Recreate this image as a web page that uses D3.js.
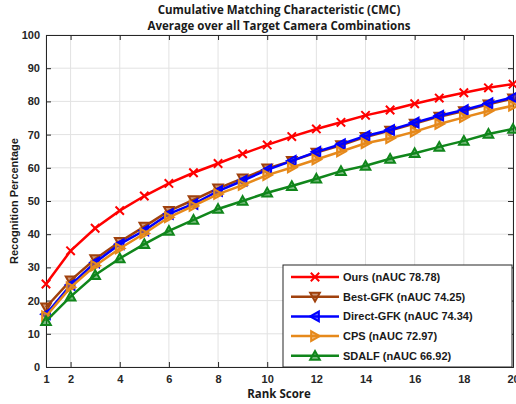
<!DOCTYPE html>
<html>
<head>
<meta charset="utf-8">
<script src="https://cdn.jsdelivr.net/npm/d3@7"></script>
<style>
  html, body { margin: 0; padding: 0; background: #fff; }
  svg { display: block; }
</style>
</head>
<body>
<svg id="chart" width="516" height="404"></svg>
<script>
// Rank scores (x) and recognition percentage per method
const ranks = d3.range(1, 21);
const ours      = [25.0, 35.0, 41.8, 47.1, 51.5, 55.3, 58.5, 61.3, 64.2, 66.9, 69.4, 71.7, 73.7, 75.8, 77.4, 79.3, 81.0, 82.6, 84.1, 85.2];
const bestGFK   = [18.0, 26.1, 32.5, 37.7, 42.3, 47.0, 50.3, 53.8, 56.8, 59.8, 62.1, 64.6, 66.8, 69.3, 71.2, 73.3, 75.4, 77.1, 79.1, 80.9];
const directGFK = [15.9, 24.7, 31.5, 37.0, 41.1, 46.1, 49.1, 53.0, 56.1, 59.4, 62.1, 64.8, 67.1, 69.6, 71.4, 73.6, 75.7, 77.4, 79.4, 81.2];
const cps       = [15.3, 24.0, 30.5, 35.7, 40.2, 45.1, 48.5, 52.1, 54.8, 57.8, 60.1, 62.5, 64.9, 67.4, 68.9, 70.9, 73.2, 75.2, 77.1, 78.7];
const sdalf     = [13.8, 21.2, 27.7, 32.7, 37.0, 41.0, 44.3, 47.6, 50.0, 52.5, 54.5, 56.7, 59.0, 60.6, 62.7, 64.4, 66.3, 68.1, 70.2, 71.7];

const seriesNames = ["Ours (nAUC 78.78)", "Best-GFK (nAUC 74.25)", "Direct-GFK (nAUC 74.34)", "CPS (nAUC 72.97)", "SDALF (nAUC 66.92)"];
const seriesColors = ["#ff0000", "#a0410d", "#0000ff", "#e6891b", "#10861b"];
const seriesMarkers = ["cross", "down", "left", "right", "up"];
const seriesValues = [ours, bestGFK, directGFK, cps, sdalf];

const xTicks = [1, 2, 4, 6, 8, 10, 12, 14, 16, 18, 20];
const yTicks = d3.range(0, 101, 10);

const titleLines = ["Cumulative Matching Characteristic (CMC)", "Average over all  Target Camera Combinations"];
const xLabel = "Rank Score";
const yLabel = "Recognition Percentage";

const svg = d3.select("#chart");
const margin = { left: 45, right: 3, top: 35, bottom: 37 };
const W = 516, H = 404;
const x = d3.scaleLinear().domain([1, 20]).range([margin.left + 1, W - margin.right]);
const y = d3.scaleLinear().domain([0, 100]).range([H - margin.bottom, margin.top]);

const fontTick = "'Liberation Sans', Arial, sans-serif";
const fontTitle = "'Open Sans', 'Noto Sans', sans-serif";

// grid
const grid = svg.append("g");
grid.selectAll(".gx").data(xTicks).join("line")
  .attr("x1", d => x(d)).attr("x2", d => x(d))
  .attr("y1", y(0)).attr("y2", y(100))
  .attr("stroke", "#e2e2e2").attr("stroke-width", 1);
grid.selectAll(".gy").data(yTicks).join("line")
  .attr("x1", x(1)).attr("x2", x(20))
  .attr("y1", d => y(d)).attr("y2", d => y(d))
  .attr("stroke", "#e2e2e2").attr("stroke-width", 1);

// axes (ticks pointing inward)
const axisG = svg.append("g").attr("font-family", fontTick);
const axBottom = axisG.append("g").attr("transform", `translate(0,${y(0)})`)
  .call(d3.axisBottom(x).tickValues(xTicks).tickSize(-5).tickPadding(8).tickFormat(d3.format("d")));
const axLeft = axisG.append("g").attr("transform", `translate(${x(1)},0)`)
  .call(d3.axisLeft(y).tickValues(yTicks).tickSize(-5).tickPadding(6));
const axTop = axisG.append("g").attr("transform", `translate(0,${y(100)})`)
  .call(d3.axisTop(x).tickValues(xTicks).tickSize(-5).tickFormat(""));
const axRight = axisG.append("g").attr("transform", `translate(${x(20)},0)`)
  .call(d3.axisRight(y).tickValues(yTicks).tickSize(-5).tickFormat(""));
[axBottom, axLeft, axTop, axRight].forEach(g => {
  g.select(".domain").attr("stroke", "#262626").attr("stroke-width", 1);
  g.selectAll(".tick line").attr("stroke", "#262626");
  g.selectAll(".tick text").attr("fill", "#262626").attr("font-size", 11).attr("font-weight", "bold");
});

// marker symbols
function markerPath(kind, s) {
  if (kind === "cross") return `M${-s},${-s}L${s},${s}M${-s},${s}L${s},${-s}`;
  const t = s * 1.15;
  if (kind === "up") return `M0,${-t}L${t},${t * 0.8}L${-t},${t * 0.8}Z`;
  if (kind === "down") return `M0,${t}L${t},${-t * 0.8}L${-t},${-t * 0.8}Z`;
  if (kind === "left") return `M${-t},0L${t * 0.8},${-t}L${t * 0.8},${t}Z`;
  return `M${t},0L${-t * 0.8},${-t}L${-t * 0.8},${t}Z`;
}

const line = d3.line().x((d, i) => x(ranks[i])).y(d => y(d));
const plot = svg.append("g");
seriesValues.forEach((vals, k) => {
  const g = plot.append("g");
  g.append("path").datum(vals).attr("d", line)
    .attr("fill", "none").attr("stroke", seriesColors[k]).attr("stroke-width", 2.5);
  g.selectAll("path.m").data(vals).join("path").attr("class", "m")
    .attr("transform", (d, i) => `translate(${x(ranks[i])},${y(d)})`)
    .attr("d", markerPath(seriesMarkers[k], 4.2))
    .attr("fill", seriesMarkers[k] === "cross" ? "none" : seriesColors[k])
    .attr("fill-opacity", 0.55)
    .attr("stroke", seriesColors[k]).attr("stroke-width", 2);
});

// legend
const lg = svg.append("g").attr("transform", "translate(283,265)");
lg.append("rect").attr("width", 229).attr("height", 102)
  .attr("fill", "#fff").attr("stroke", "#262626").attr("stroke-width", 1);
seriesNames.forEach((name, k) => {
  const cy = 12 + k * 19.7;
  lg.append("line").attr("x1", 8).attr("x2", 56).attr("y1", cy).attr("y2", cy)
    .attr("stroke", seriesColors[k]).attr("stroke-width", 2.5);
  lg.append("path").attr("transform", `translate(32,${cy})`)
    .attr("d", markerPath(seriesMarkers[k], 4.2))
    .attr("fill", seriesMarkers[k] === "cross" ? "none" : seriesColors[k])
    .attr("fill-opacity", 0.55)
    .attr("stroke", seriesColors[k]).attr("stroke-width", 2);
  lg.append("text").attr("x", 60).attr("y", cy).attr("dy", "0.35em")
    .attr("font-family", fontTick).attr("font-size", 11).attr("font-weight", "bold")
    .attr("fill", "#1a1a1a").text(name);
});

// titles and axis labels
svg.selectAll(".title").data(titleLines).join("text")
  .attr("x", 279).attr("y", (d, i) => 14 + i * 16)
  .attr("text-anchor", "middle").attr("font-family", fontTitle)
  .attr("font-size", 11.5).attr("font-weight", "bold").attr("fill", "#1a1a1a")
  .text(d => d);
svg.append("text").attr("x", 279).attr("y", 398).attr("text-anchor", "middle")
  .attr("font-family", fontTitle).attr("font-size", 11.5).attr("font-weight", "bold")
  .attr("fill", "#1a1a1a").text(xLabel);
svg.append("text").attr("transform", `translate(18,${(y(0) + y(100)) / 2}) rotate(-90)`)
  .attr("text-anchor", "middle").attr("font-family", fontTick)
  .attr("font-size", 11).attr("font-weight", "bold").attr("fill", "#1a1a1a").text(yLabel);
</script>
</body>
</html>
